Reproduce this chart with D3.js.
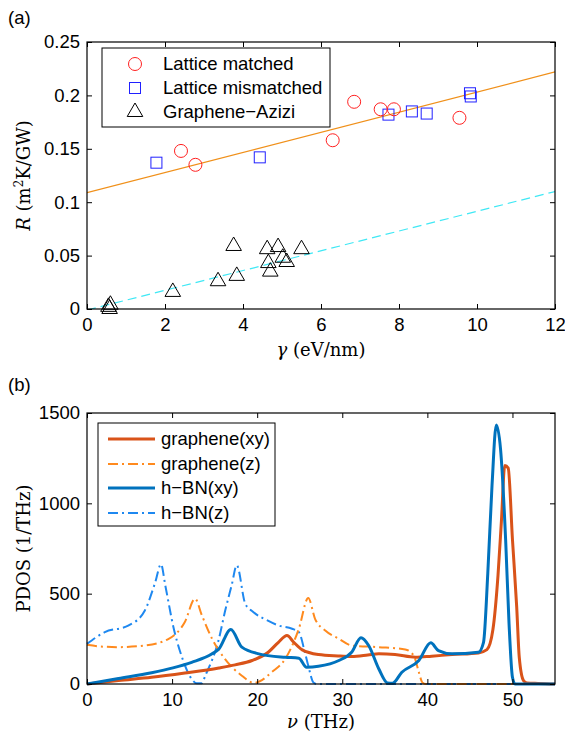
<!DOCTYPE html>
<html><head><meta charset="utf-8">
<script src="https://cdn.jsdelivr.net/npm/d3@7"></script>
<style>
body{margin:0;background:#fff;}
svg{display:block;}
.tick text{font-family:"Liberation Sans",Arial,sans-serif;font-size:18.5px;fill:#000;}
</style></head>
<body>
<svg id="c" width="565" height="737"></svg>
<script>
// ---------- Panel (a) data ----------
const matchedX = [2.41, 2.78, 6.30, 6.85, 7.53, 7.87, 9.55];
const matchedY = [0.148, 0.135, 0.158, 0.194, 0.187, 0.187, 0.179];
const mismatchedX = [1.78, 4.43, 7.73, 8.33, 8.71, 9.82, 9.84];
const mismatchedY = [0.137, 0.142, 0.182, 0.185, 0.183, 0.202, 0.199];
const aziziX = [0.55, 0.6, 0.58, 2.2, 3.36, 3.76, 3.84, 4.62, 4.9, 4.65, 4.7, 5.02, 5.12, 5.5];
const aziziY = [0.002, 0.004, 0.0, 0.016, 0.026, 0.059, 0.031, 0.056, 0.058, 0.043, 0.035, 0.048, 0.044, 0.056];
const fitMatchedX = [0, 12];
const fitMatchedY = [0.109, 0.222];
const fitAziziX = [0, 12];
const fitAziziY = [-0.001, 0.110];
const aXTicks = [0, 2, 4, 6, 8, 10, 12];
const aYTicks = [0, 0.05, 0.1, 0.15, 0.2, 0.25];
const aLegend = ["Lattice matched", "Lattice mismatched", "Graphene\u2212Azizi"];

// ---------- Panel (b) data ----------
const gxyNu   = [0, 3.7, 7.6, 11.5, 15.5, 17.4, 19.4, 21.3, 22.5, 23.5, 24.3, 25.3, 27.2, 29.5, 31.1, 33, 34.3, 36.2, 38.6, 40.5, 42.9, 46, 47, 47.7, 48.3, 48.7, 49.1, 49.5, 50, 50.5, 50.8, 51.3, 51.7, 53, 55];
const gxyVal  = [0, 19, 37, 61, 89, 106, 130, 176, 231, 268, 231, 189, 163, 155, 152, 160, 167, 163, 148, 154, 163, 172, 190, 300, 600, 900, 1210, 1195, 800, 426, 148, 19, 6, 3, 0];
const gzNu    = [0, 1.5, 3.7, 6.8, 9.6, 11.5, 12.7, 13.5, 14.7, 16.2, 18.2, 19.6, 20.3, 21.7, 23.3, 24.9, 26, 26.8, 28, 29.6, 31.1, 34.3, 37.4, 38.4, 39, 39.4, 39.8, 45, 55];
const gzVal   = [217, 208, 204, 213, 250, 343, 472, 380, 250, 139, 46, 6, 15, 65, 139, 306, 476, 361, 296, 250, 213, 204, 191, 157, 65, 9, 0, 0, 0];
const bxyNu   = [0, 3.7, 7.6, 10.1, 12.3, 14.7, 15.5, 16.9, 18.2, 20.2, 23.3, 24.9, 25.8, 27.2, 29.6, 31.1, 32.2, 33.1, 34.3, 35.3, 35.9, 37, 39, 40.4, 41.3, 42.9, 46, 46.6, 47.1, 47.6, 48.1, 48.6, 49.2, 49.6, 50, 50.3, 55];
const bxyVal  = [0, 30, 62, 89, 120, 167, 194, 302, 204, 167, 148, 143, 93, 98, 130, 176, 256, 213, 83, 6, 4, 65, 130, 228, 185, 167, 176, 231, 611, 1100, 1434, 1300, 797, 333, 37, 0, 0];
const bzNu    = [0, 2.1, 4.9, 6.8, 8, 8.7, 9.2, 10.2, 11.1, 12.3, 12.9, 13.5, 13.9, 15.5, 16.2, 17, 17.6, 18.6, 19.5, 21.2, 22.5, 24.1, 24.9, 25.6, 26, 26.6, 27, 55];
const bzVal   = [222, 287, 324, 407, 560, 663, 546, 306, 157, 28, 4, 4, 46, 250, 398, 546, 657, 444, 400, 352, 324, 306, 287, 176, 102, 9, 0, 0];
const bXTicks = [0, 10, 20, 30, 40, 50];
const bYTicks = [0, 500, 1000, 1500];
const bLegend = ["graphene(xy)", "graphene(z)", "h\u2212BN(xy)", "h\u2212BN(z)"];

const svg = d3.select("#c");
const sans = '"Liberation Sans",Arial,sans-serif';
const serif = '"DejaVu Serif",serif';
const fs = 18.5;

function frame(g, x, y, xt, yt, xfmt, yfmt, W, H) {
  const tl = 5;
  g.append("g").attr("class","ax").attr("transform",`translate(0,${H})`)
    .call(d3.axisBottom(x).tickValues(xt).tickSize(-tl).tickPadding(9).tickFormat(xfmt));
  g.append("g").attr("class","ax")
    .call(d3.axisLeft(y).tickValues(yt).tickSize(-tl).tickPadding(7).tickFormat(yfmt));
  g.append("g").attr("class","ax")
    .call(d3.axisTop(x).tickValues(xt).tickSize(-tl).tickFormat(""));
  g.append("g").attr("class","ax").attr("transform",`translate(${W},0)`)
    .call(d3.axisRight(y).tickValues(yt).tickSize(-tl).tickFormat(""));
  g.selectAll(".ax .domain").remove();
  g.selectAll(".ax line").attr("stroke","#000").attr("stroke-width",1);
  g.append("rect").attr("width",W).attr("height",H).attr("fill","none").attr("stroke","#000").attr("stroke-width",1.2);
}

// ================= Panel (a) =================
{
  const L=87, R=555, T=42, B=309, W=R-L, H=B-T;
  const g = svg.append("g").attr("transform",`translate(${L},${T})`);
  const x = d3.scaleLinear().domain([0,12]).range([0,W]);
  const y = d3.scaleLinear().domain([0,0.25]).range([H,0]);
  svg.append("clipPath").attr("id","clipA").append("rect").attr("width",W).attr("height",H);
  const pl = g.append("g").attr("clip-path","url(#clipA)");
  const line = d3.line().x(d=>x(d[0])).y(d=>y(d[1]));
  pl.append("path").attr("d", line(d3.zip(fitMatchedX, fitMatchedY))).attr("stroke","#F0901A").attr("stroke-width",1.2).attr("fill","none");
  pl.append("path").attr("d", line(d3.zip(fitAziziX, fitAziziY))).attr("stroke","#3FE8F5").attr("stroke-width",1.2).attr("stroke-dasharray","9,5").attr("fill","none");

  const tri = d3.symbol().type(d3.symbolTriangle).size(105);
  g.selectAll(".tri").data(d3.zip(aziziX, aziziY)).join("path")
    .attr("transform", d=>`translate(${x(d[0])},${y(d[1])})`)
    .attr("d", tri).attr("fill","none").attr("stroke","#000").attr("stroke-width",1);
  g.selectAll(".sq").data(d3.zip(mismatchedX, mismatchedY)).join("rect")
    .attr("x", d=>x(d[0])-5.5).attr("y", d=>y(d[1])-5.5).attr("width",11).attr("height",11)
    .attr("fill","none").attr("stroke","#2020FF").attr("stroke-width",1);
  g.selectAll(".ci").data(d3.zip(matchedX, matchedY)).join("circle")
    .attr("cx", d=>x(d[0])).attr("cy", d=>y(d[1])).attr("r",6.5)
    .attr("fill","none").attr("stroke","#FF2020").attr("stroke-width",1);

  frame(g, x, y, aXTicks, aYTicks, d3.format("d"), d=>d===0?"0":String(d), W, H);

  // legend
  const lg = svg.append("g");
  lg.append("rect").attr("x",102).attr("y",48).attr("width",228).attr("height",79).attr("fill","#fff").attr("stroke","#000").attr("stroke-width",1);
  const rows=[64,88,112];
  lg.append("circle").attr("cx",135).attr("cy",rows[0]).attr("r",6.5).attr("fill","none").attr("stroke","#FF2020");
  lg.append("rect").attr("x",129.5).attr("y",rows[1]-5.5).attr("width",11).attr("height",11).attr("fill","none").attr("stroke","#2020FF");
  lg.append("path").attr("transform",`translate(135,${rows[2]})`).attr("d",tri).attr("fill","none").attr("stroke","#000");
  aLegend.forEach((t,i)=>lg.append("text").attr("x",163).attr("y",rows[i]).attr("dy","0.35em")
    .attr("font-family",sans).attr("font-size",fs).text(t));

  // axis labels
  const yl = svg.append("text").attr("transform",`translate(30,${(T+B)/2}) rotate(-90)`).attr("text-anchor","middle")
    .attr("font-family",serif).attr("font-size",18);
  yl.append("tspan").attr("font-style","italic").text("R");
  yl.append("tspan").text(" (m");
  yl.append("tspan").attr("font-size",12).attr("dy",-7).text("2");
  yl.append("tspan").attr("dy",7).text("K/GW)");
  const xl = svg.append("text").attr("x",(L+R)/2).attr("y",356).attr("text-anchor","middle")
    .attr("font-family",serif).attr("font-size",18);
  xl.append("tspan").attr("font-style","italic").text("\u03B3");
  xl.append("tspan").text(" (eV/nm)");
  svg.append("text").attr("x",8).attr("y",24).attr("font-family",sans).attr("font-size",fs).text("(a)");
}

// ================= Panel (b) =================
{
  const L=87, R=555, T=413, B=684, W=R-L, H=B-T;
  const g = svg.append("g").attr("transform",`translate(${L},${T})`);
  const x = d3.scaleLinear().domain([0,55]).range([0,W]);
  const y = d3.scaleLinear().domain([0,1500]).range([H,0]);
  svg.append("clipPath").attr("id","clipB").append("rect").attr("x",-2).attr("y",-2).attr("width",W+4).attr("height",H+4);
  const pl = g.append("g").attr("clip-path","url(#clipB)");
  const line = d3.line().x(d=>x(d[0])).y(d=>y(d[1])).curve(d3.curveMonotoneX);
  const series = [
    {nu:bzNu, v:bzVal, c:"#1E88F0", w:2, dash:"10,4,2,4"},
    {nu:gzNu, v:gzVal, c:"#FF8A1E", w:2, dash:"10,4,2,4"},
    {nu:gxyNu, v:gxyVal, c:"#D95319", w:3, dash:null},
    {nu:bxyNu, v:bxyVal, c:"#0072BD", w:3, dash:null}
  ];
  series.forEach(s=>{
    pl.append("path").attr("d", line(d3.zip(s.nu, s.v))).attr("fill","none")
      .attr("stroke", s.c).attr("stroke-width", s.w).attr("stroke-dasharray", s.dash);
  });
  frame(g, x, y, bXTicks, bYTicks, d3.format("d"), d3.format("d"), W, H);

  const lg = svg.append("g");
  lg.append("rect").attr("x",98).attr("y",423).attr("width",177).attr("height",103).attr("fill","#fff").attr("stroke","#000").attr("stroke-width",1);
  const rows=[439,464,488,513];
  const order=[series[2],series[1],series[3],series[0]];
  order.forEach((s,i)=>{
    lg.append("line").attr("x1",108).attr("x2",155).attr("y1",rows[i]).attr("y2",rows[i])
      .attr("stroke",s.c).attr("stroke-width",s.w).attr("stroke-dasharray",s.dash);
    lg.append("text").attr("x",161).attr("y",rows[i]).attr("dy","0.35em")
      .attr("font-family",sans).attr("font-size",fs).text(bLegend[i]);
  });

  svg.append("text").attr("transform",`translate(30,${(T+B)/2}) rotate(-90)`).attr("text-anchor","middle")
    .attr("font-family",serif).attr("font-size",18).text("PDOS (1/THz)");
  const xl = svg.append("text").attr("x",(L+R)/2).attr("y",728).attr("text-anchor","middle")
    .attr("font-family",serif).attr("font-size",18);
  xl.append("tspan").attr("font-style","italic").text("\u03BD");
  xl.append("tspan").text(" (THz)");
  svg.append("text").attr("x",8).attr("y",391).attr("font-family",sans).attr("font-size",fs).text("(b)");
}
</script>
</body></html>
